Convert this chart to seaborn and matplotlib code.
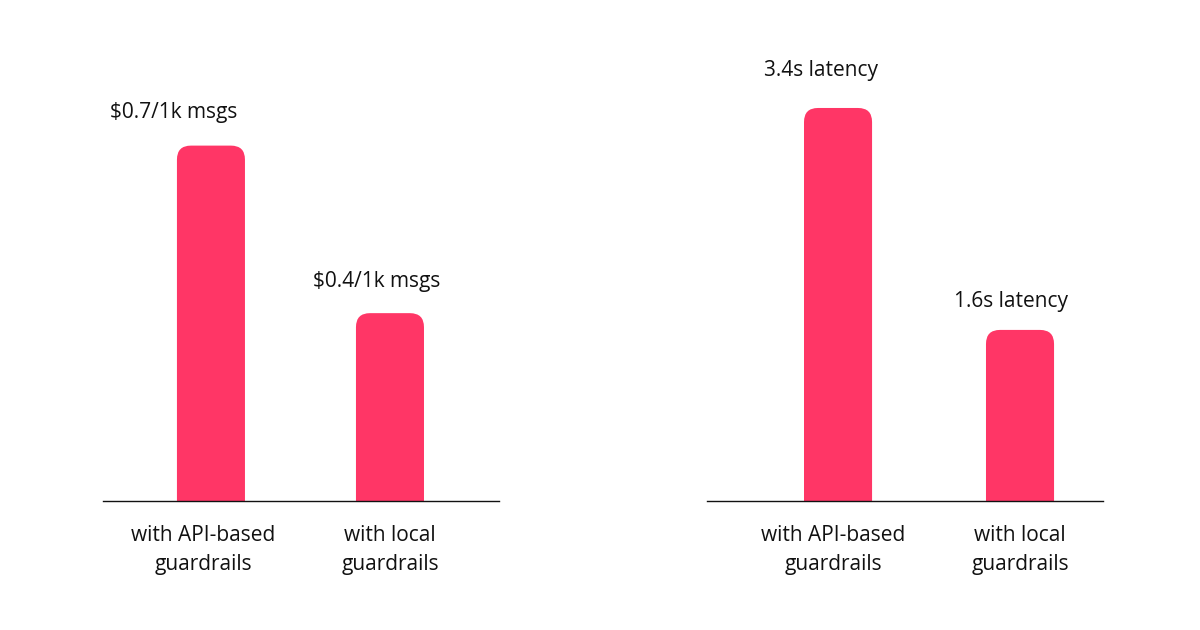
import matplotlib
matplotlib.use("Agg")
import matplotlib.pyplot as plt
import matplotlib.transforms as mtransforms
from matplotlib.patches import FancyBboxPatch
import seaborn as sns

# data
categories = ["with API-based\nguardrails", "with local\nguardrails"]
cost_values = [0.70, 0.37]
cost_labels = ["$0.7/1k msgs", "$0.4/1k msgs"]
latency_values = [3.4, 1.48]
latency_labels = ["3.4s latency", "1.6s latency"]

PINK = "#FF3666"
FS = 15

sns.set_theme(style="white")
plt.rcParams["font.family"] = ["Open Sans", "DejaVu Sans"]

fig = plt.figure(figsize=(12, 6.3), dpi=100)
ax_cost = fig.add_axes([103 / 1200, 129 / 630, 396 / 1200, 461 / 630])
ax_lat = fig.add_axes([707 / 1200, 129 / 630, 396 / 1200, 461 / 630])


def round_tops(ax, radius_px=14):
    x0, x1 = ax.get_xlim()
    y0, y1 = ax.get_ylim()
    bb = ax.get_window_extent()
    x_per_px = (x1 - x0) / bb.width
    y_per_px = (y1 - y0) / bb.height
    aspect = y_per_px / x_per_px
    r = radius_px * x_per_px
    for bar in list(ax.patches):
        x, w, h = bar.get_x(), bar.get_width(), bar.get_height()
        fc = bar.get_facecolor()
        bar.remove()
        extra = 2 * r * aspect
        ax.add_patch(FancyBboxPatch((x, -extra), w, h + extra,
                                    boxstyle=f"round,pad=0,rounding_size={r}",
                                    mutation_aspect=aspect, fc=fc, ec="none", lw=0))


def panel(ax, values, labels, xlim, ylim, width, label_off, tick_dx):
    sns.barplot(x=categories, y=values, color=PINK, saturation=1, width=width, ax=ax)
    ax.set_xlim(*xlim)
    ax.set_ylim(*ylim)
    round_tops(ax)
    for i, (v, lab) in enumerate(zip(values, labels)):
        dx, dy = label_off[i]
        ax.annotate(lab, xy=(i, v), xytext=(dx, dy), textcoords="offset pixels",
                    ha="center", va="baseline", fontsize=FS, color="#111111")
    ax.set_yticks([])
    ax.set_xlabel("")
    ax.set_ylabel("")
    ax.tick_params(axis="x", length=0, pad=17, labelsize=FS, colors="#111111")
    for lab, dx in zip(ax.get_xticklabels(), tick_dx):
        lab.set_linespacing(1.5)
        lab.set_transform(lab.get_transform() +
                          mtransforms.ScaledTranslation(dx / 100, 0, fig.dpi_scale_trans))
    sns.despine(ax=ax, left=True)
    ax.spines["bottom"].set_color("#111111")
    ax.spines["bottom"].set_linewidth(1.0)


panel(ax_cost, cost_values, cost_labels, (-0.603, 1.609), (0, 0.908), 0.38,
      [(-37, 28), (-13, 26)], [-8, 0])
panel(ax_lat, latency_values, latency_labels, (-0.72, 1.456), (0, 3.988), 0.374,
      [(-17, 32), (-9, 23)], [-5, 0])

fig.savefig("out.png", dpi=100, facecolor="white")
